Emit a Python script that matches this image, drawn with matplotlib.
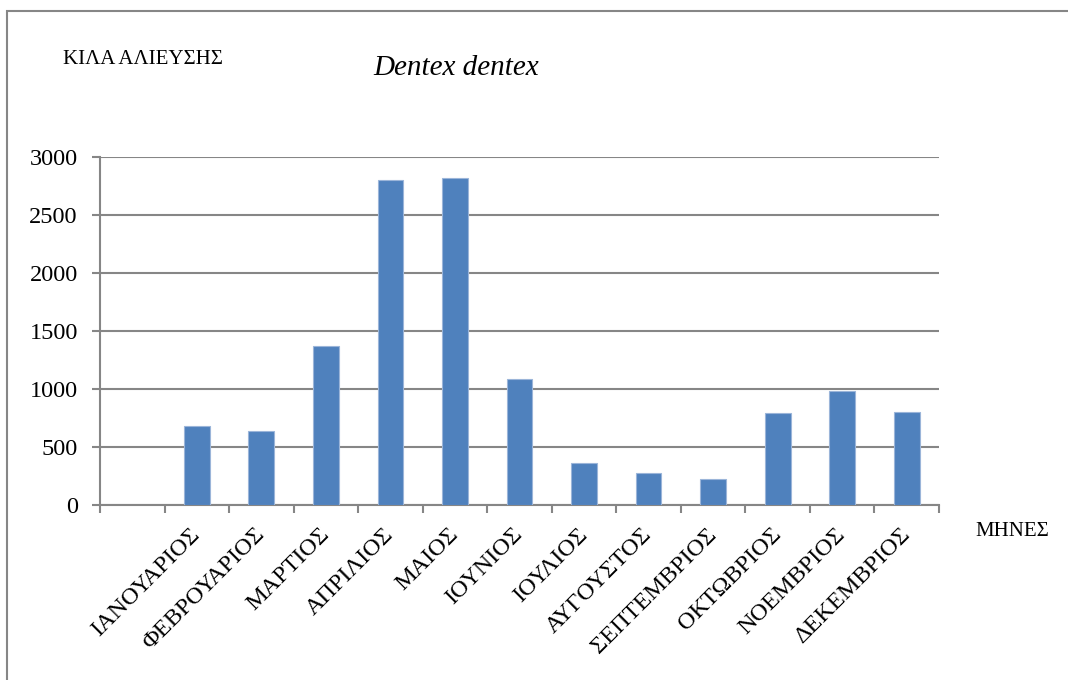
import numpy as np
import matplotlib
matplotlib.use('Agg')
import matplotlib.pyplot as plt
from matplotlib.patches import Rectangle

# data
months = ['ΙΑΝΟΥΑΡΙΟΣ', 'ΦΕΒΡΟΥΑΡΙΟΣ', 'ΜΑΡΤΙΟΣ', 'ΑΠΡΙΛΙΟΣ', 'ΜΑΙΟΣ', 'ΙΟΥΝΙΟΣ',
          'ΙΟΥΛΙΟΣ', 'ΑΥΓΟΥΣΤΟΣ', 'ΣΕΠΤΕΜΒΡΙΟΣ', 'ΟΚΤΩΒΡΙΟΣ', 'ΝΟΕΜΒΡΙΟΣ', 'ΔΕΚΕΜΒΡΙΟΣ']
kilos = [684, 637, 1370, 2800, 2818, 1088, 362, 275, 222, 796, 985, 806]
yticks = [0, 500, 1000, 1500, 2000, 2500, 3000]

plt.rcParams['font.family'] = ['Liberation Serif', 'DejaVu Serif']
grey = '#868686'
blue = '#4F81BD'

fig = plt.figure(figsize=(10.68, 6.8), dpi=100)
W, H = 1068, 680
ax = fig.add_axes([100 / W, (H - 505) / H, (939 - 100) / W, (505 - 157) / H])

# one empty slot before January, like the original sheet
pos = np.arange(1, len(months) + 1) + 0.5
ax.bar(pos, kilos, width=0.4, color=blue, edgecolor='#9BB5D9', linewidth=0.8, zorder=3)

ax.set_xlim(0, len(months) + 1)
ax.set_ylim(0, 3000)
ax.set_yticks(yticks)
ax.set_yticklabels([str(v) for v in yticks], fontsize=17.5)
ax.yaxis.grid(True, color=grey, linewidth=1.5, zorder=0)

ax.set_xticks(np.arange(len(months) + 2))
ax.set_xticklabels([])
ax.set_xticks(pos, minor=True)
ax.set_xticklabels(months, minor=True, rotation=45, ha='right', va='center',
                   rotation_mode='anchor', fontsize=17.5)
ax.tick_params(axis='x', which='minor', length=0, pad=19)
ax.tick_params(axis='x', which='major', length=6, width=1.5, color=grey, direction='out')
ax.tick_params(axis='y', length=6, width=1.5, color=grey, pad=10)

for s in ('top', 'right'):
    ax.spines[s].set_visible(False)
for s in ('left', 'bottom'):
    ax.spines[s].set_color(grey)
    ax.spines[s].set_linewidth(1.5)

fig.text(63 / W, 1 - 59 / H, 'ΚΙΛΑ ΑΛΙΕΥΣΗΣ', fontsize=15, va='center', ha='left')
fig.text(373 / W, 1 - 68 / H, 'Dentex dentex', fontsize=21, style='italic', va='center', ha='left')
fig.text(975 / W, 1 - 532 / H, 'ΜΗΝΕΣ', fontsize=15, va='center', ha='left')

# outer frame of the chart area, runs off the right and bottom
fig.patches.append(Rectangle((7 / W, -0.1), 1.2, 1 - 11 / H + 0.1, transform=fig.transFigure,
                             fill=False, edgecolor=grey, linewidth=1.5))

fig.savefig('out.png', dpi=100)
